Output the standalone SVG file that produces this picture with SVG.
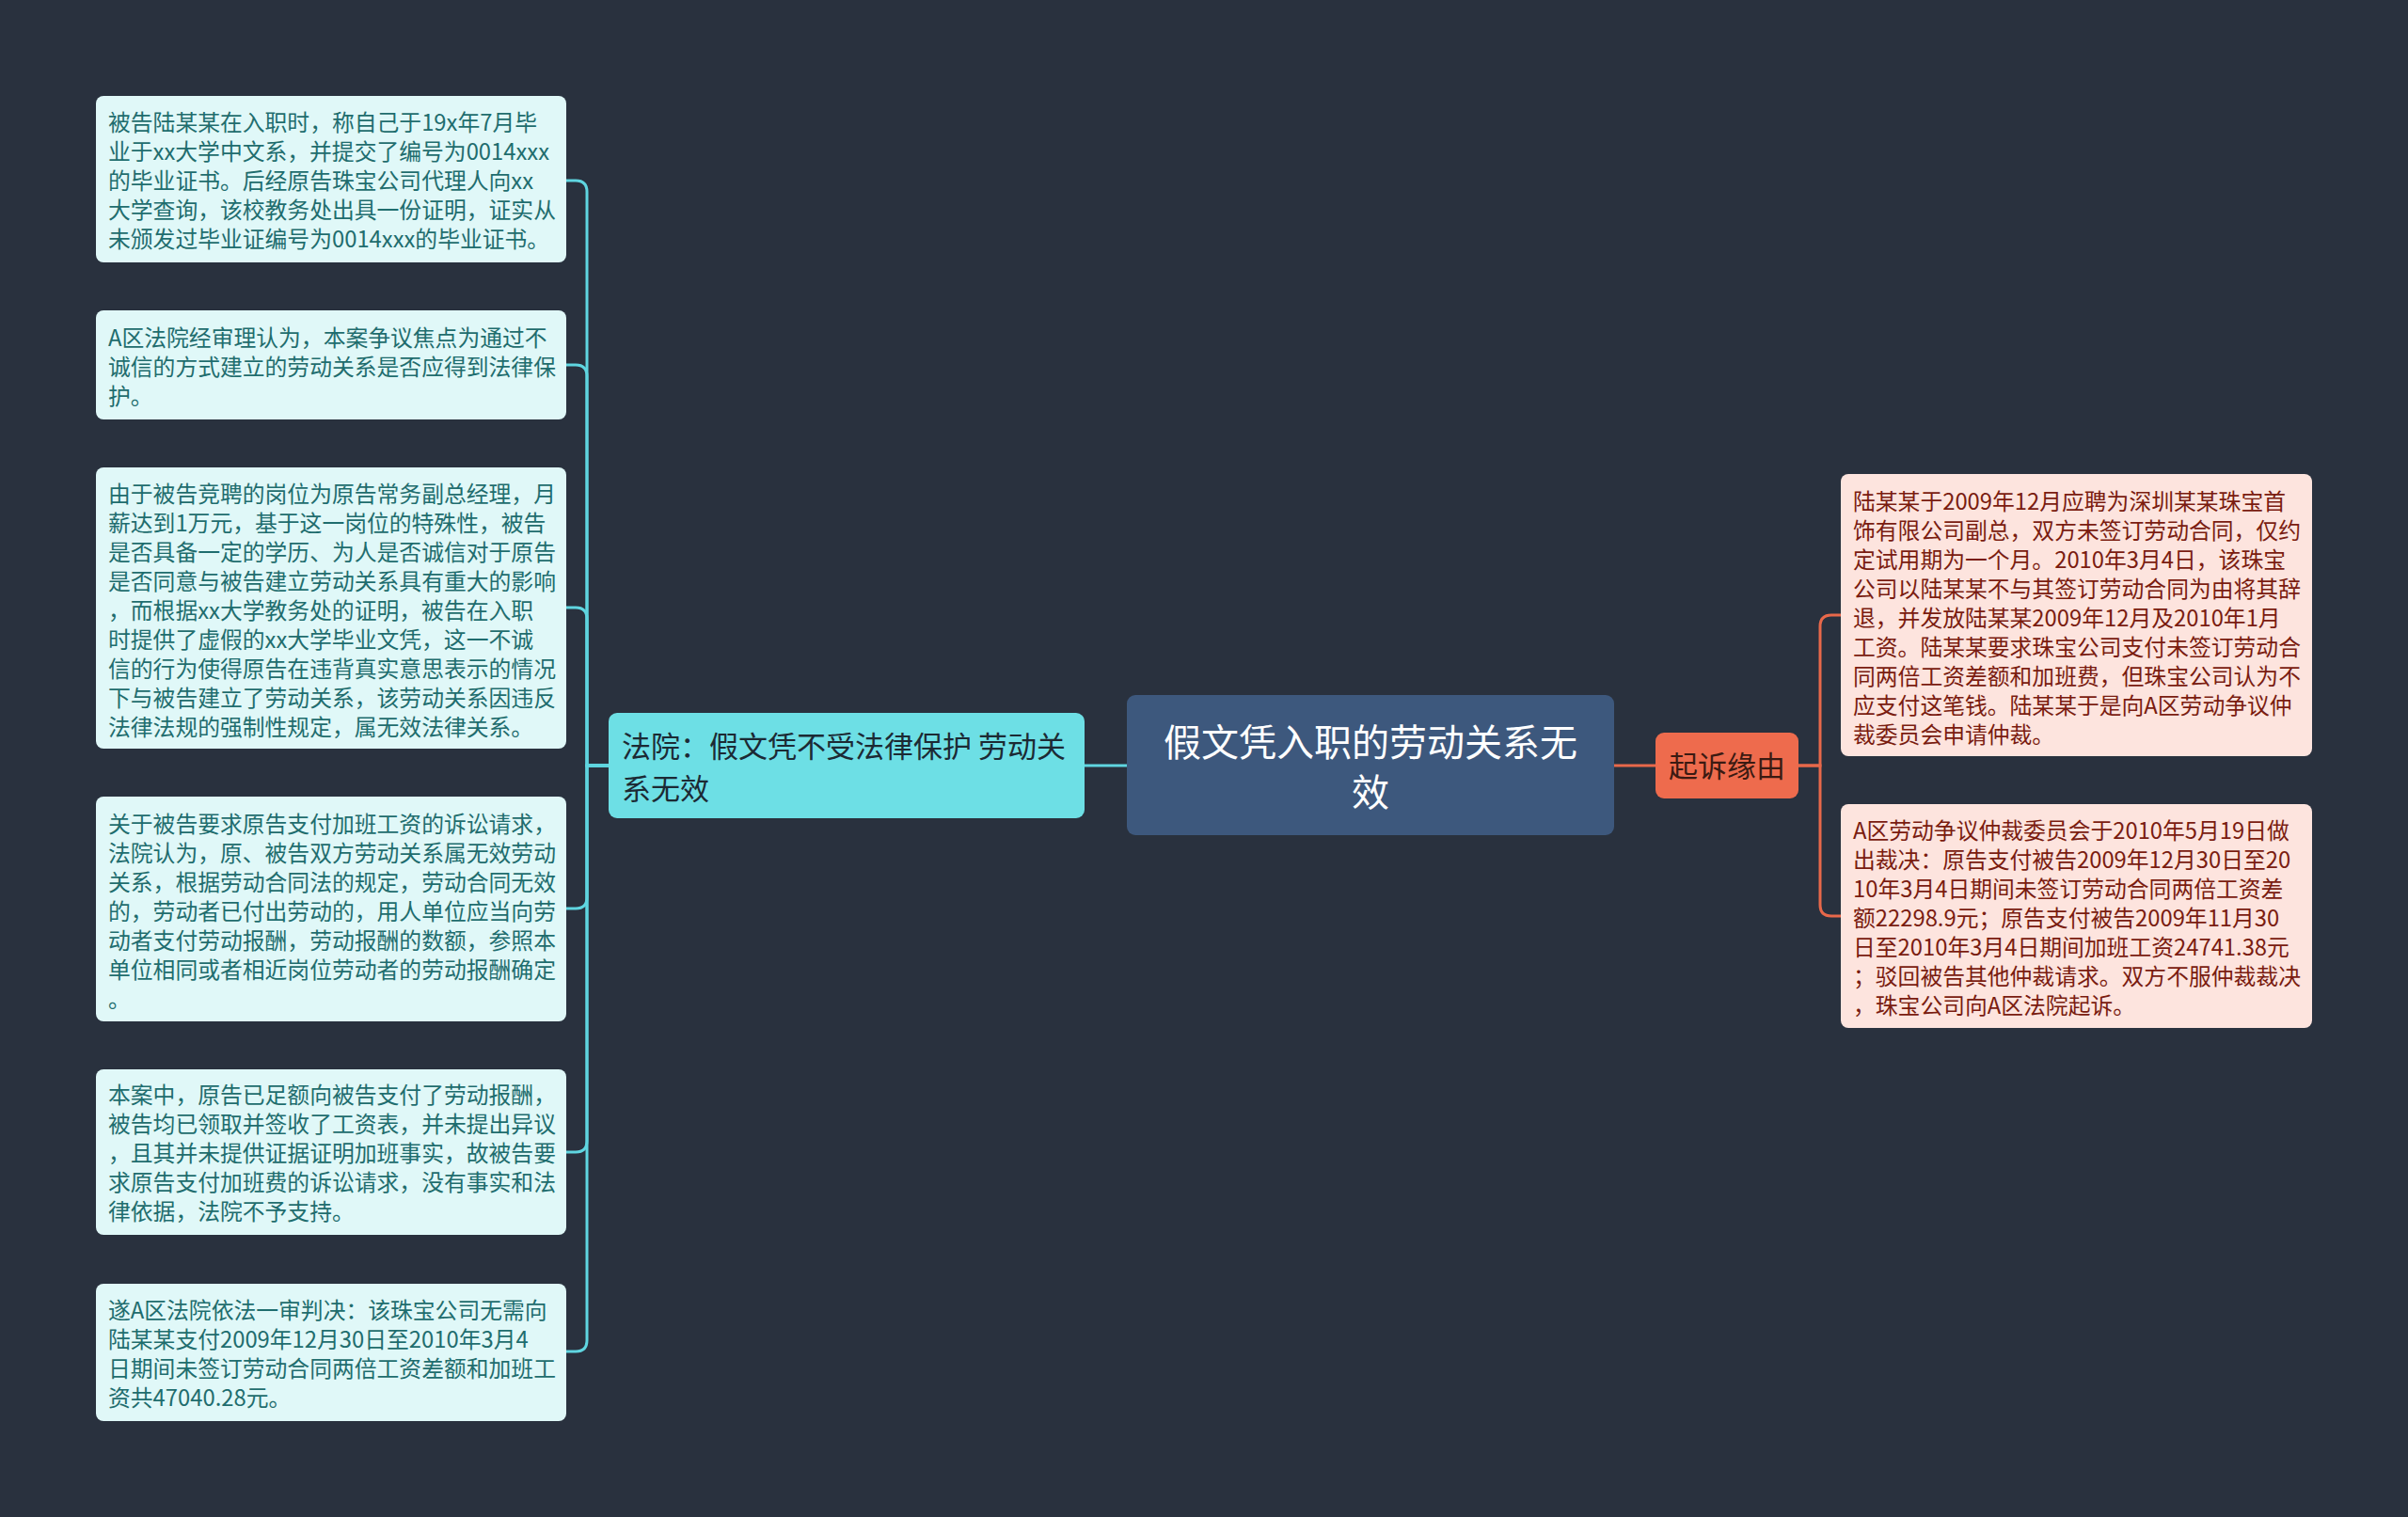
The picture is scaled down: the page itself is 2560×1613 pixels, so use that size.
<svg xmlns="http://www.w3.org/2000/svg" width="2560" height="1613" viewBox="0 0 2560 1613">
<style>
text{font-family:"Noto Sans CJK SC","Noto Sans",sans-serif;}
.leafL{fill:#e0f8f8;}
.leafR{fill:#fde4de;}
.tL{font-size:23.8px;fill:#1f6d6e;}
.tR{font-size:23.8px;fill:#7a1c10;}
.cL{fill:none;stroke:#5fd5e0;stroke-width:3;}
.cR{fill:none;stroke:#e8684a;stroke-width:3;}
</style>
<rect x="0" y="0" width="2560" height="1613" fill="#29313e"/>
<g id="connectors">
<path class="cL" d="M647 814 H624 V204 Q624 192 612 192 H602"/>
<path class="cL" d="M647 814 H624 V400 Q624 388 612 388 H602"/>
<path class="cL" d="M647 814 H624 V658 Q624 646 612 646 H602"/>
<path class="cL" d="M647 814 H624 V954 Q624 966 612 966 H602"/>
<path class="cL" d="M647 814 H624 V1213 Q624 1225 612 1225 H602"/>
<path class="cL" d="M647 814 H624 V1425 Q624 1437 612 1437 H602"/>
<path class="cL" d="M1153 814 H1198"/>
<path class="cR" d="M1716 814 H1760"/>
<path class="cR" d="M1912 814 H1935 V666 Q1935 654 1947 654 H1957"/>
<path class="cR" d="M1912 814 H1935 V962 Q1935 974 1947 974 H1957"/>
</g>
<g id="root">
<rect x="1198" y="739" width="518" height="149" rx="9" fill="#3d587d"/>
<text x="1457" y="804" font-size="40" fill="#ffffff" text-anchor="middle"><tspan x="1457">假文凭入职的劳动关系无</tspan><tspan x="1457" dy="53">效</tspan></text>
</g>
<g id="branch-court">
<rect x="647" y="758" width="506" height="112" rx="9" fill="#6ddfe5"/>
<text x="661" y="805" font-size="31" fill="#1c2a34"><tspan x="661">法院：假文凭不受法律保护 劳动关</tspan><tspan x="661" dy="45">系无效</tspan></text>
</g>
<g id="branch-reason">
<rect x="1760" y="779" width="152" height="70" rx="9" fill="#ee6b4d"/>
<text x="1836" y="826" font-size="31" fill="#3b1a12" text-anchor="middle">起诉缘由</text>
</g>
<g id="leaf1">
<rect class="leafL" x="102" y="102" width="500" height="177" rx="8"/>
<text class="tL" x="115" y="139"><tspan x="115">被告陆某某在入职时，称自己于19x年7月毕</tspan><tspan x="115" dy="31">业于xx大学中文系，并提交了编号为0014xxx</tspan><tspan x="115" dy="31">的毕业证书。后经原告珠宝公司代理人向xx</tspan><tspan x="115" dy="31">大学查询，该校教务处出具一份证明，证实从</tspan><tspan x="115" dy="31">未颁发过毕业证编号为0014xxx的毕业证书。</tspan></text>
</g>
<g id="leaf2">
<rect class="leafL" x="102" y="330" width="500" height="116" rx="8"/>
<text class="tL" x="115" y="368"><tspan x="115">A区法院经审理认为，本案争议焦点为通过不</tspan><tspan x="115" dy="31">诚信的方式建立的劳动关系是否应得到法律保</tspan><tspan x="115" dy="31">护。</tspan></text>
</g>
<g id="leaf3">
<rect class="leafL" x="102" y="497" width="500" height="299" rx="8"/>
<text class="tL" x="115" y="534"><tspan x="115">由于被告竞聘的岗位为原告常务副总经理，月</tspan><tspan x="115" dy="31">薪达到1万元，基于这一岗位的特殊性，被告</tspan><tspan x="115" dy="31">是否具备一定的学历、为人是否诚信对于原告</tspan><tspan x="115" dy="31">是否同意与被告建立劳动关系具有重大的影响</tspan><tspan x="115" dy="31">，而根据xx大学教务处的证明，被告在入职</tspan><tspan x="115" dy="31">时提供了虚假的xx大学毕业文凭，这一不诚</tspan><tspan x="115" dy="31">信的行为使得原告在违背真实意思表示的情况</tspan><tspan x="115" dy="31">下与被告建立了劳动关系，该劳动关系因违反</tspan><tspan x="115" dy="31">法律法规的强制性规定，属无效法律关系。</tspan></text>
</g>
<g id="leaf4">
<rect class="leafL" x="102" y="847" width="500" height="239" rx="8"/>
<text class="tL" x="115" y="885"><tspan x="115">关于被告要求原告支付加班工资的诉讼请求，</tspan><tspan x="115" dy="31">法院认为，原、被告双方劳动关系属无效劳动</tspan><tspan x="115" dy="31">关系，根据劳动合同法的规定，劳动合同无效</tspan><tspan x="115" dy="31">的，劳动者已付出劳动的，用人单位应当向劳</tspan><tspan x="115" dy="31">动者支付劳动报酬，劳动报酬的数额，参照本</tspan><tspan x="115" dy="31">单位相同或者相近岗位劳动者的劳动报酬确定</tspan><tspan x="115" dy="31">。</tspan></text>
</g>
<g id="leaf5">
<rect class="leafL" x="102" y="1137" width="500" height="176" rx="8"/>
<text class="tL" x="115" y="1173"><tspan x="115">本案中，原告已足额向被告支付了劳动报酬，</tspan><tspan x="115" dy="31">被告均已领取并签收了工资表，并未提出异议</tspan><tspan x="115" dy="31">，且其并未提供证据证明加班事实，故被告要</tspan><tspan x="115" dy="31">求原告支付加班费的诉讼请求，没有事实和法</tspan><tspan x="115" dy="31">律依据，法院不予支持。</tspan></text>
</g>
<g id="leaf6">
<rect class="leafL" x="102" y="1365" width="500" height="146" rx="8"/>
<text class="tL" x="115" y="1402"><tspan x="115">遂A区法院依法一审判决：该珠宝公司无需向</tspan><tspan x="115" dy="31">陆某某支付2009年12月30日至2010年3月4</tspan><tspan x="115" dy="31">日期间未签订劳动合同两倍工资差额和加班工</tspan><tspan x="115" dy="31">资共47040.28元。</tspan></text>
</g>
<g id="leaf7">
<rect class="leafR" x="1957" y="504" width="501" height="300" rx="8"/>
<text class="tR" x="1970" y="542"><tspan x="1970">陆某某于2009年12月应聘为深圳某某珠宝首</tspan><tspan x="1970" dy="31">饰有限公司副总，双方未签订劳动合同，仅约</tspan><tspan x="1970" dy="31">定试用期为一个月。2010年3月4日，该珠宝</tspan><tspan x="1970" dy="31">公司以陆某某不与其签订劳动合同为由将其辞</tspan><tspan x="1970" dy="31">退，并发放陆某某2009年12月及2010年1月</tspan><tspan x="1970" dy="31">工资。陆某某要求珠宝公司支付未签订劳动合</tspan><tspan x="1970" dy="31">同两倍工资差额和加班费，但珠宝公司认为不</tspan><tspan x="1970" dy="31">应支付这笔钱。陆某某于是向A区劳动争议仲</tspan><tspan x="1970" dy="31">裁委员会申请仲裁。</tspan></text>
</g>
<g id="leaf8">
<rect class="leafR" x="1957" y="855" width="501" height="238" rx="8"/>
<text class="tR" x="1970" y="892"><tspan x="1970">A区劳动争议仲裁委员会于2010年5月19日做</tspan><tspan x="1970" dy="31">出裁决：原告支付被告2009年12月30日至20</tspan><tspan x="1970" dy="31">10年3月4日期间未签订劳动合同两倍工资差</tspan><tspan x="1970" dy="31">额22298.9元；原告支付被告2009年11月30</tspan><tspan x="1970" dy="31">日至2010年3月4日期间加班工资24741.38元</tspan><tspan x="1970" dy="31">；驳回被告其他仲裁请求。双方不服仲裁裁决</tspan><tspan x="1970" dy="31">，珠宝公司向A区法院起诉。</tspan></text>
</g>
</svg>
